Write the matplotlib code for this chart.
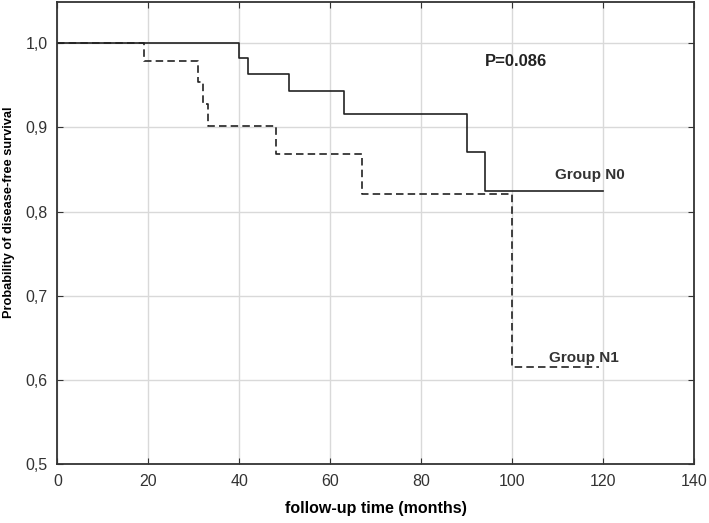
import matplotlib.pyplot as plt

plt.rcParams['font.family'] = ['Liberation Sans', 'DejaVu Sans']

# Kaplan-Meier step data
t_n0 = [0, 40, 42, 51, 63, 90, 94, 120]
s_n0 = [1.0, 0.982, 0.964, 0.943, 0.916, 0.871, 0.825, 0.825]
t_n1 = [0, 19, 31, 32, 33, 48, 67, 100, 119]
s_n1 = [1.0, 0.979, 0.954, 0.928, 0.902, 0.868, 0.821, 0.615, 0.615]

xticks = [0, 20, 40, 60, 80, 100, 120, 140]
yticks = [0.5, 0.6, 0.7, 0.8, 0.9, 1.0]
ytick_labels = ['0,5', '0,6', '0,7', '0,8', '0,9', '1,0']

fig = plt.figure(figsize=(7.09, 5.23), dpi=100)
ax = fig.add_axes([0.081, 0.113, 0.898, 0.883])

ax.step(t_n0, s_n0, where='post', color='#222222', lw=1.2)
ax.step(t_n1, s_n1, where='post', color='#222222', lw=1.2, dashes=(4.5, 2.5))

ax.text(94, 0.978, 'P=0.086', fontsize=12, fontweight='bold', va='center', color='#222222')
ax.text(109.5, 0.843, 'Group N0', fontsize=11, fontweight='bold', va='center', color='#333333')
ax.text(108, 0.626, 'Group N1', fontsize=11, fontweight='bold', va='center', color='#333333')

ax.set_xlim(0, 140)
ax.set_ylim(0.5, 1.049)
ax.set_xticks(xticks)
ax.set_yticks(yticks)
ax.set_yticklabels(ytick_labels)
ax.grid(True, color='#d9d9d9', lw=1)
ax.set_axisbelow(True)
ax.tick_params(direction='in', length=4, top=True, right=True, labelsize=11.5,
               labelcolor='#333333', color='#333333', pad=7)
for sp in ax.spines.values():
    sp.set_color('#333333')
    sp.set_linewidth(1.3)

ax.set_xlabel('follow-up time (months)', fontsize=11.5, fontweight='bold', labelpad=9)
ax.set_ylabel('Probability of disease-free survival', fontsize=9.2, fontweight='bold')
ax.yaxis.set_label_coords(-0.067, 0.545)

fig.savefig('out.png', dpi=100)
